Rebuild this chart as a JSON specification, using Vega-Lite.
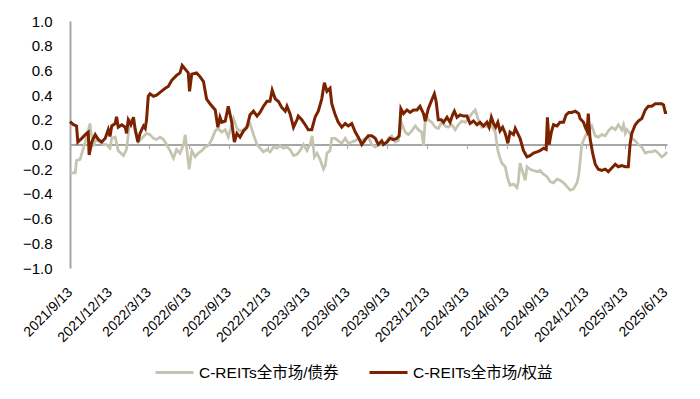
{
  "$schema": "https://vega.github.io/schema/vega-lite/v6.json",
  "width": 597,
  "height": 247,
  "autosize": "none",
  "padding": {"left": 70, "top": 21, "right": 33, "bottom": 131},
  "background": "white",
  "config": {
    "view": {"stroke": null},
    "font": "Liberation Sans, Noto Sans CJK SC",
    "axis": {"labelColor": "#000000", "labelFont": "Liberation Sans"}
  },
  "datasets": {
    "bond": [
      {"d":"2021-09-13","v":-0.22},{"d":"2021-09-17","v":-0.23},{"d":"2021-09-25","v":-0.23},{"d":"2021-09-28","v":-0.13},
      {"d":"2021-10-06","v":-0.12},{"d":"2021-10-14","v":-0.03},{"d":"2021-10-18","v":0.02},{"d":"2021-10-24","v":0.10},
      {"d":"2021-10-29","v":0.17},{"d":"2021-10-31","v":0.10},{"d":"2021-11-06","v":0.0},{"d":"2021-11-13","v":0.04},
      {"d":"2021-11-21","v":0.02},{"d":"2021-11-29","v":0.0},{"d":"2021-12-06","v":0.0},{"d":"2021-12-14","v":-0.03},
      {"d":"2021-12-18","v":0.05},{"d":"2021-12-26","v":0.06},{"d":"2022-01-02","v":-0.05},{"d":"2022-01-14","v":-0.09},
      {"d":"2022-01-21","v":-0.04},{"d":"2022-01-29","v":0.2},{"d":"2022-02-06","v":0.19},{"d":"2022-02-10","v":0.12},
      {"d":"2022-02-17","v":0.02},{"d":"2022-02-25","v":0.05},{"d":"2022-03-08","v":0.09},{"d":"2022-03-16","v":0.08},
      {"d":"2022-03-24","v":0.05},{"d":"2022-03-31","v":0.04},{"d":"2022-04-08","v":0.06},{"d":"2022-04-16","v":0.04},
      {"d":"2022-04-23","v":0.0},{"d":"2022-05-01","v":-0.05},{"d":"2022-05-09","v":-0.11},{"d":"2022-05-16","v":-0.04},
      {"d":"2022-05-24","v":-0.07},{"d":"2022-06-01","v":0.0},{"d":"2022-06-05","v":0.08},{"d":"2022-06-09","v":-0.05},
      {"d":"2022-06-14","v":-0.2},{"d":"2022-06-20","v":-0.05},{"d":"2022-06-28","v":-0.1},{"d":"2022-07-05","v":-0.07},
      {"d":"2022-07-13","v":-0.05},{"d":"2022-07-21","v":-0.02},{"d":"2022-07-28","v":-0.01},{"d":"2022-08-05","v":0.04},
      {"d":"2022-08-13","v":0.11},{"d":"2022-08-20","v":0.13},{"d":"2022-08-28","v":0.10},{"d":"2022-09-05","v":0.12},
      {"d":"2022-09-12","v":0.06},{"d":"2022-09-24","v":0.21},{"d":"2022-10-02","v":0.13},{"d":"2022-10-09","v":0.11},
      {"d":"2022-10-17","v":0.12},{"d":"2022-10-25","v":0.15},{"d":"2022-11-01","v":0.17},{"d":"2022-11-09","v":0.08},
      {"d":"2022-11-17","v":0.0},{"d":"2022-11-24","v":-0.03},{"d":"2022-12-02","v":-0.06},{"d":"2022-12-10","v":-0.04},
      {"d":"2022-12-17","v":-0.06},{"d":"2022-12-25","v":-0.02},{"d":"2023-01-02","v":-0.03},{"d":"2023-01-09","v":-0.01},
      {"d":"2023-01-17","v":-0.03},{"d":"2023-01-25","v":-0.02},{"d":"2023-02-01","v":-0.04},{"d":"2023-02-09","v":-0.09},
      {"d":"2023-02-17","v":-0.08},{"d":"2023-02-24","v":-0.05},{"d":"2023-03-04","v":0.0},{"d":"2023-03-12","v":-0.05},
      {"d":"2023-03-19","v":0.0},{"d":"2023-03-24","v":0.07},{"d":"2023-03-29","v":-0.1},{"d":"2023-04-04","v":-0.07},
      {"d":"2023-04-11","v":-0.12},{"d":"2023-04-19","v":-0.2},{"d":"2023-04-23","v":-0.17},{"d":"2023-04-27","v":-0.07},
      {"d":"2023-05-04","v":-0.05},{"d":"2023-05-08","v":0.05},{"d":"2023-05-16","v":0.05},{"d":"2023-05-23","v":0.03},
      {"d":"2023-05-31","v":0.01},{"d":"2023-06-08","v":0.05},{"d":"2023-06-15","v":0.01},{"d":"2023-06-23","v":0.02},
      {"d":"2023-07-01","v":0.03},{"d":"2023-07-08","v":0.05},{"d":"2023-07-16","v":0.03},{"d":"2023-07-24","v":0.05},
      {"d":"2023-07-31","v":0.06},{"d":"2023-08-08","v":0.0},{"d":"2023-08-16","v":-0.02},{"d":"2023-08-23","v":0.0},
      {"d":"2023-08-31","v":0.02},{"d":"2023-09-08","v":0.0},{"d":"2023-09-15","v":0.05},{"d":"2023-09-23","v":0.07},
      {"d":"2023-10-01","v":0.02},{"d":"2023-10-08","v":0.03},{"d":"2023-10-16","v":0.17},{"d":"2023-10-24","v":0.10},
      {"d":"2023-10-31","v":0.08},{"d":"2023-11-08","v":0.11},{"d":"2023-11-16","v":0.15},{"d":"2023-11-23","v":0.12},
      {"d":"2023-12-01","v":0.10},{"d":"2023-12-05","v":-0.01},{"d":"2023-12-10","v":0.25},{"d":"2023-12-16","v":0.2},
      {"d":"2023-12-24","v":0.18},{"d":"2024-01-01","v":0.14},{"d":"2024-01-08","v":0.13},{"d":"2024-01-16","v":0.18},
      {"d":"2024-01-24","v":0.15},{"d":"2024-01-31","v":0.14},{"d":"2024-02-08","v":0.16},{"d":"2024-02-16","v":0.12},
      {"d":"2024-02-23","v":0.16},{"d":"2024-03-02","v":0.19},{"d":"2024-03-10","v":0.18},{"d":"2024-03-17","v":0.21},
      {"d":"2024-03-25","v":0.25},{"d":"2024-04-02","v":0.28},{"d":"2024-04-09","v":0.20},{"d":"2024-04-17","v":0.14},
      {"d":"2024-04-25","v":0.15},{"d":"2024-05-02","v":0.14},{"d":"2024-05-10","v":0.15},{"d":"2024-05-18","v":0.10},
      {"d":"2024-05-24","v":-0.05},{"d":"2024-05-28","v":-0.1},{"d":"2024-06-02","v":-0.15},{"d":"2024-06-10","v":-0.18},
      {"d":"2024-06-16","v":-0.28},{"d":"2024-06-21","v":-0.33},{"d":"2024-06-29","v":-0.32},{"d":"2024-07-07","v":-0.35},
      {"d":"2024-07-10","v":-0.3},{"d":"2024-07-14","v":-0.15},{"d":"2024-07-26","v":-0.29},{"d":"2024-07-30","v":-0.18},
      {"d":"2024-08-06","v":-0.2},{"d":"2024-08-14","v":-0.21},{"d":"2024-08-22","v":-0.22},{"d":"2024-08-29","v":-0.21},
      {"d":"2024-09-06","v":-0.24},{"d":"2024-09-14","v":-0.26},{"d":"2024-09-21","v":-0.3},{"d":"2024-09-29","v":-0.31},
      {"d":"2024-10-07","v":-0.28},{"d":"2024-10-14","v":-0.29},{"d":"2024-10-22","v":-0.31},{"d":"2024-10-30","v":-0.34},
      {"d":"2024-11-06","v":-0.37},{"d":"2024-11-14","v":-0.36},{"d":"2024-11-22","v":-0.31},{"d":"2024-11-26","v":-0.25},
      {"d":"2024-12-03","v":0.0},{"d":"2024-12-09","v":0.05},{"d":"2024-12-13","v":0.08},{"d":"2024-12-17","v":0.1},
      {"d":"2024-12-26","v":0.15},{"d":"2025-01-03","v":0.07},{"d":"2025-01-10","v":0.06},{"d":"2025-01-18","v":0.08},
      {"d":"2025-01-26","v":0.07},{"d":"2025-02-02","v":0.11},{"d":"2025-02-10","v":0.14},{"d":"2025-02-18","v":0.12},
      {"d":"2025-02-25","v":0.16},{"d":"2025-03-05","v":0.12},{"d":"2025-03-09","v":0.16},{"d":"2025-03-13","v":0.09},
      {"d":"2025-03-17","v":0.12},{"d":"2025-03-24","v":0.09},{"d":"2025-03-28","v":0.05},{"d":"2025-04-05","v":0.03},
      {"d":"2025-04-12","v":0.0},{"d":"2025-04-20","v":-0.02},{"d":"2025-04-28","v":-0.07},{"d":"2025-05-05","v":-0.06},
      {"d":"2025-05-13","v":-0.06},{"d":"2025-05-21","v":-0.05},{"d":"2025-05-28","v":-0.07},{"d":"2025-06-05","v":-0.1},
      {"d":"2025-06-13","v":-0.08},{"d":"2025-06-17","v":-0.06}
    ],
    "equity": [
      {"d":"2021-09-13","v":0.185},{"d":"2021-09-21","v":0.16},{"d":"2021-09-28","v":0.15},{"d":"2021-10-01","v":0.02},
      {"d":"2021-10-10","v":0.05},{"d":"2021-10-21","v":0.09},{"d":"2021-10-25","v":0.10},{"d":"2021-10-27","v":-0.085},
      {"d":"2021-11-02","v":0.02},{"d":"2021-11-10","v":0.08},{"d":"2021-11-17","v":0.04},{"d":"2021-11-25","v":0.02},
      {"d":"2021-12-03","v":0.05},{"d":"2021-12-10","v":0.12},{"d":"2021-12-14","v":0.065},{"d":"2021-12-18","v":0.15},
      {"d":"2021-12-26","v":0.17},{"d":"2021-12-29","v":0.225},{"d":"2022-01-02","v":0.14},{"d":"2022-01-10","v":0.16},
      {"d":"2022-01-18","v":0.14},{"d":"2022-01-21","v":0.09},{"d":"2022-01-25","v":0.20},{"d":"2022-01-31","v":0.16},
      {"d":"2022-02-06","v":0.22},{"d":"2022-02-10","v":0.12},{"d":"2022-02-16","v":0.02},{"d":"2022-02-21","v":0.09},
      {"d":"2022-03-01","v":0.15},{"d":"2022-03-05","v":0.13},{"d":"2022-03-08","v":0.20},{"d":"2022-03-12","v":0.39},
      {"d":"2022-03-16","v":0.41},{"d":"2022-03-24","v":0.39},{"d":"2022-03-31","v":0.40},{"d":"2022-04-11","v":0.43},
      {"d":"2022-04-20","v":0.455},{"d":"2022-04-27","v":0.47},{"d":"2022-05-05","v":0.52},{"d":"2022-05-16","v":0.56},
      {"d":"2022-05-24","v":0.58},{"d":"2022-05-29","v":0.64},{"d":"2022-06-05","v":0.61},{"d":"2022-06-12","v":0.58},
      {"d":"2022-06-15","v":0.43},{"d":"2022-06-20","v":0.57},{"d":"2022-07-01","v":0.58},{"d":"2022-07-09","v":0.55},
      {"d":"2022-07-17","v":0.51},{"d":"2022-07-24","v":0.37},{"d":"2022-08-01","v":0.33},{"d":"2022-08-13","v":0.28},
      {"d":"2022-08-19","v":0.14},{"d":"2022-08-24","v":0.22},{"d":"2022-08-28","v":0.18},{"d":"2022-09-05","v":0.19},
      {"d":"2022-09-12","v":0.31},{"d":"2022-09-20","v":0.18},{"d":"2022-09-26","v":0.02},{"d":"2022-10-02","v":0.09},
      {"d":"2022-10-09","v":0.06},{"d":"2022-10-17","v":0.11},{"d":"2022-10-25","v":0.14},{"d":"2022-11-01","v":0.24},
      {"d":"2022-11-09","v":0.27},{"d":"2022-11-17","v":0.23},{"d":"2022-11-24","v":0.26},{"d":"2022-12-02","v":0.31},
      {"d":"2022-12-10","v":0.35},{"d":"2022-12-17","v":0.35},{"d":"2022-12-22","v":0.44},{"d":"2022-12-29","v":0.37},
      {"d":"2023-01-05","v":0.35},{"d":"2023-01-13","v":0.30},{"d":"2023-01-21","v":0.27},{"d":"2023-01-25","v":0.31},
      {"d":"2023-02-01","v":0.25},{"d":"2023-02-09","v":0.14},{"d":"2023-02-17","v":0.2},{"d":"2023-02-20","v":0.23},
      {"d":"2023-02-28","v":0.2},{"d":"2023-03-08","v":0.16},{"d":"2023-03-15","v":0.12},{"d":"2023-03-23","v":0.12},
      {"d":"2023-03-31","v":0.225},{"d":"2023-04-07","v":0.27},{"d":"2023-04-15","v":0.37},{"d":"2023-04-21","v":0.5},
      {"d":"2023-04-27","v":0.43},{"d":"2023-05-04","v":0.455},{"d":"2023-05-08","v":0.33},{"d":"2023-05-16","v":0.24},
      {"d":"2023-05-23","v":0.18},{"d":"2023-05-31","v":0.14},{"d":"2023-06-08","v":0.17},{"d":"2023-06-15","v":0.15},
      {"d":"2023-06-23","v":0.17},{"d":"2023-07-01","v":0.10},{"d":"2023-07-08","v":0.06},{"d":"2023-07-16","v":0.0},
      {"d":"2023-07-24","v":0.04},{"d":"2023-07-31","v":0.07},{"d":"2023-08-08","v":0.07},{"d":"2023-08-16","v":0.05},
      {"d":"2023-08-23","v":0.0},{"d":"2023-08-31","v":0.03},{"d":"2023-09-04","v":0.0},{"d":"2023-09-12","v":0.02},
      {"d":"2023-09-19","v":0.05},{"d":"2023-09-27","v":0.04},{"d":"2023-10-05","v":0.05},{"d":"2023-10-10","v":0.07},
      {"d":"2023-10-14","v":0.29},{"d":"2023-10-20","v":0.25},{"d":"2023-10-28","v":0.28},{"d":"2023-11-04","v":0.26},
      {"d":"2023-11-12","v":0.28},{"d":"2023-11-20","v":0.28},{"d":"2023-11-27","v":0.31},{"d":"2023-12-05","v":0.25},
      {"d":"2023-12-09","v":0.19},{"d":"2023-12-16","v":0.29},{"d":"2023-12-24","v":0.36},{"d":"2023-12-30","v":0.41},
      {"d":"2024-01-03","v":0.35},{"d":"2024-01-08","v":0.20},{"d":"2024-01-15","v":0.2},{"d":"2024-01-20","v":0.18},
      {"d":"2024-01-28","v":0.22},{"d":"2024-02-04","v":0.18},{"d":"2024-02-10","v":0.24},{"d":"2024-02-14","v":0.27},
      {"d":"2024-02-20","v":0.22},{"d":"2024-02-27","v":0.24},{"d":"2024-03-06","v":0.23},{"d":"2024-03-14","v":0.23},
      {"d":"2024-03-21","v":0.17},{"d":"2024-03-29","v":0.19},{"d":"2024-04-06","v":0.16},{"d":"2024-04-13","v":0.18},
      {"d":"2024-04-21","v":0.15},{"d":"2024-04-29","v":0.18},{"d":"2024-05-04","v":0.14},{"d":"2024-05-09","v":0.22},
      {"d":"2024-05-14","v":0.17},{"d":"2024-05-19","v":0.14},{"d":"2024-05-24","v":0.18},{"d":"2024-05-29","v":0.11},
      {"d":"2024-06-04","v":0.14},{"d":"2024-06-10","v":0.09},{"d":"2024-06-16","v":0.01},{"d":"2024-06-21","v":0.1},
      {"d":"2024-06-29","v":0.08},{"d":"2024-07-03","v":0.13},{"d":"2024-07-14","v":0.05},{"d":"2024-07-22","v":-0.05},
      {"d":"2024-07-30","v":-0.1},{"d":"2024-08-06","v":-0.09},{"d":"2024-08-14","v":-0.07},{"d":"2024-08-22","v":-0.06},
      {"d":"2024-08-29","v":-0.05},{"d":"2024-09-06","v":-0.03},{"d":"2024-09-12","v":-0.04},{"d":"2024-09-15","v":0.22},
      {"d":"2024-09-19","v":0.0},{"d":"2024-09-24","v":0.1},{"d":"2024-09-29","v":0.16},{"d":"2024-10-07","v":0.15},
      {"d":"2024-10-14","v":0.18},{"d":"2024-10-22","v":0.18},{"d":"2024-10-28","v":0.24},{"d":"2024-11-03","v":0.26},
      {"d":"2024-11-10","v":0.26},{"d":"2024-11-18","v":0.27},{"d":"2024-11-26","v":0.25},{"d":"2024-11-29","v":0.21},
      {"d":"2024-12-07","v":0.18},{"d":"2024-12-11","v":0.14},{"d":"2024-12-15","v":0.11},{"d":"2024-12-18","v":0.25},
      {"d":"2024-12-22","v":0.05},{"d":"2024-12-28","v":-0.07},{"d":"2025-01-03","v":-0.16},{"d":"2025-01-10","v":-0.2},
      {"d":"2025-01-18","v":-0.21},{"d":"2025-01-26","v":-0.2},{"d":"2025-02-02","v":-0.22},{"d":"2025-02-10","v":-0.19},
      {"d":"2025-02-18","v":-0.16},{"d":"2025-02-25","v":-0.18},{"d":"2025-03-05","v":-0.17},{"d":"2025-03-13","v":-0.18},
      {"d":"2025-03-20","v":-0.18},{"d":"2025-03-24","v":0.0},{"d":"2025-03-28","v":0.09},{"d":"2025-04-05","v":0.16},
      {"d":"2025-04-12","v":0.19},{"d":"2025-04-20","v":0.21},{"d":"2025-04-28","v":0.28},{"d":"2025-05-05","v":0.31},
      {"d":"2025-05-13","v":0.31},{"d":"2025-05-21","v":0.33},{"d":"2025-05-28","v":0.33},{"d":"2025-06-05","v":0.33},
      {"d":"2025-06-09","v":0.32},{"d":"2025-06-13","v":0.26},{"d":"2025-06-17","v":0.26}
    ]
  },
  "resolve": {"axis": {"x": "independent"}},
  "layer": [
    {
      "data": {"name": "bond"},
      "mark": {"type": "line", "strokeWidth": 2.75, "interpolate": "linear"},
      "encoding": {
        "x": {
          "field": "d", "type": "temporal",
          "scale": {"type": "utc", "domain": [{"year": 2021, "month": 9, "date": 13, "utc": true}, {"year": 2025, "month": 6, "date": 17, "utc": true}]},
          "axis": {
            "orient": "bottom", "offset": -123.5, "title": null, "labels": false, "grid": false,
            "domain": true, "domainColor": "#A6A6A6", "domainWidth": 2,
            "ticks": true, "tickColor": "#A6A6A6", "tickSize": 4, "tickWidth": 1,
            "values": [
              {"year": 2021, "month": 9, "date": 13, "utc": true}, {"year": 2021, "month": 12, "date": 13, "utc": true},
              {"year": 2022, "month": 3, "date": 13, "utc": true}, {"year": 2022, "month": 6, "date": 13, "utc": true},
              {"year": 2022, "month": 9, "date": 13, "utc": true}, {"year": 2022, "month": 12, "date": 13, "utc": true},
              {"year": 2023, "month": 3, "date": 13, "utc": true}, {"year": 2023, "month": 6, "date": 13, "utc": true},
              {"year": 2023, "month": 9, "date": 13, "utc": true}, {"year": 2023, "month": 12, "date": 13, "utc": true},
              {"year": 2024, "month": 3, "date": 13, "utc": true}, {"year": 2024, "month": 6, "date": 13, "utc": true},
              {"year": 2024, "month": 9, "date": 13, "utc": true}, {"year": 2024, "month": 12, "date": 13, "utc": true},
              {"year": 2025, "month": 3, "date": 13, "utc": true}, {"year": 2025, "month": 6, "date": 13, "utc": true}
            ]
          }
        },
        "y": {
          "field": "v", "type": "quantitative",
          "scale": {"domain": [-1, 1], "nice": false, "zero": false},
          "axis": {
            "title": null, "grid": false, "ticks": false, "domain": true, "domainColor": "#A6A6A6", "domainWidth": 2,
            "values": [-1, -0.8, -0.6, -0.4, -0.2, 0, 0.2, 0.4, 0.6, 0.8, 1],
            "format": ".1f", "labelFontSize": 15, "labelColor": "#000000", "labelPadding": 18
          }
        },
        "color": {
          "datum": "C-REITs全市场/债券",
          "scale": {"domain": ["C-REITs全市场/债券", "C-REITs全市场/权益"], "range": ["#C5C4B1", "#7B2200"]},
          "legend": {
            "orient": "none", "legendX": 84, "legendY": 331, "direction": "horizontal", "title": null,
            "symbolType": "stroke", "symbolSize": 1444, "symbolStrokeWidth": 3,
            "labelFontSize": 15.5, "labelColor": "#000000", "labelOffset": 4, "columnPadding": 24
          }
        }
      }
    },
    {
      "data": {"name": "equity"},
      "mark": {"type": "line", "strokeWidth": 3, "interpolate": "linear"},
      "encoding": {
        "x": {
          "field": "d", "type": "temporal",
          "axis": {
            "orient": "bottom", "title": null, "grid": false, "domain": false, "ticks": false,
            "labelAngle": -45, "labelAlign": "right", "labelBaseline": "middle", "labelPadding": 22,
            "labelFontSize": 14, "labelColor": "#000000", "format": "%Y/%-m/%-d", "labelOverlap": false, "labelBound": false, "labelFlush": false,
            "values": [
              {"year": 2021, "month": 9, "date": 13, "utc": true}, {"year": 2021, "month": 12, "date": 13, "utc": true},
              {"year": 2022, "month": 3, "date": 13, "utc": true}, {"year": 2022, "month": 6, "date": 13, "utc": true},
              {"year": 2022, "month": 9, "date": 13, "utc": true}, {"year": 2022, "month": 12, "date": 13, "utc": true},
              {"year": 2023, "month": 3, "date": 13, "utc": true}, {"year": 2023, "month": 6, "date": 13, "utc": true},
              {"year": 2023, "month": 9, "date": 13, "utc": true}, {"year": 2023, "month": 12, "date": 13, "utc": true},
              {"year": 2024, "month": 3, "date": 13, "utc": true}, {"year": 2024, "month": 6, "date": 13, "utc": true},
              {"year": 2024, "month": 9, "date": 13, "utc": true}, {"year": 2024, "month": 12, "date": 13, "utc": true},
              {"year": 2025, "month": 3, "date": 13, "utc": true}, {"year": 2025, "month": 6, "date": 13, "utc": true}
            ]
          }
        },
        "y": {
          "field": "v", "type": "quantitative",
          "axis": {
            "title": null, "grid": false, "ticks": false, "domain": true, "domainColor": "#A6A6A6", "domainWidth": 2,
            "values": [-1, -0.8, -0.6, -0.4, -0.2, 0, 0.2, 0.4, 0.6, 0.8, 1],
            "format": ".1f", "labelFontSize": 15, "labelColor": "#000000", "labelPadding": 18
          }
        },
        "color": {"datum": "C-REITs全市场/权益"}
      }
    }
  ]
}
